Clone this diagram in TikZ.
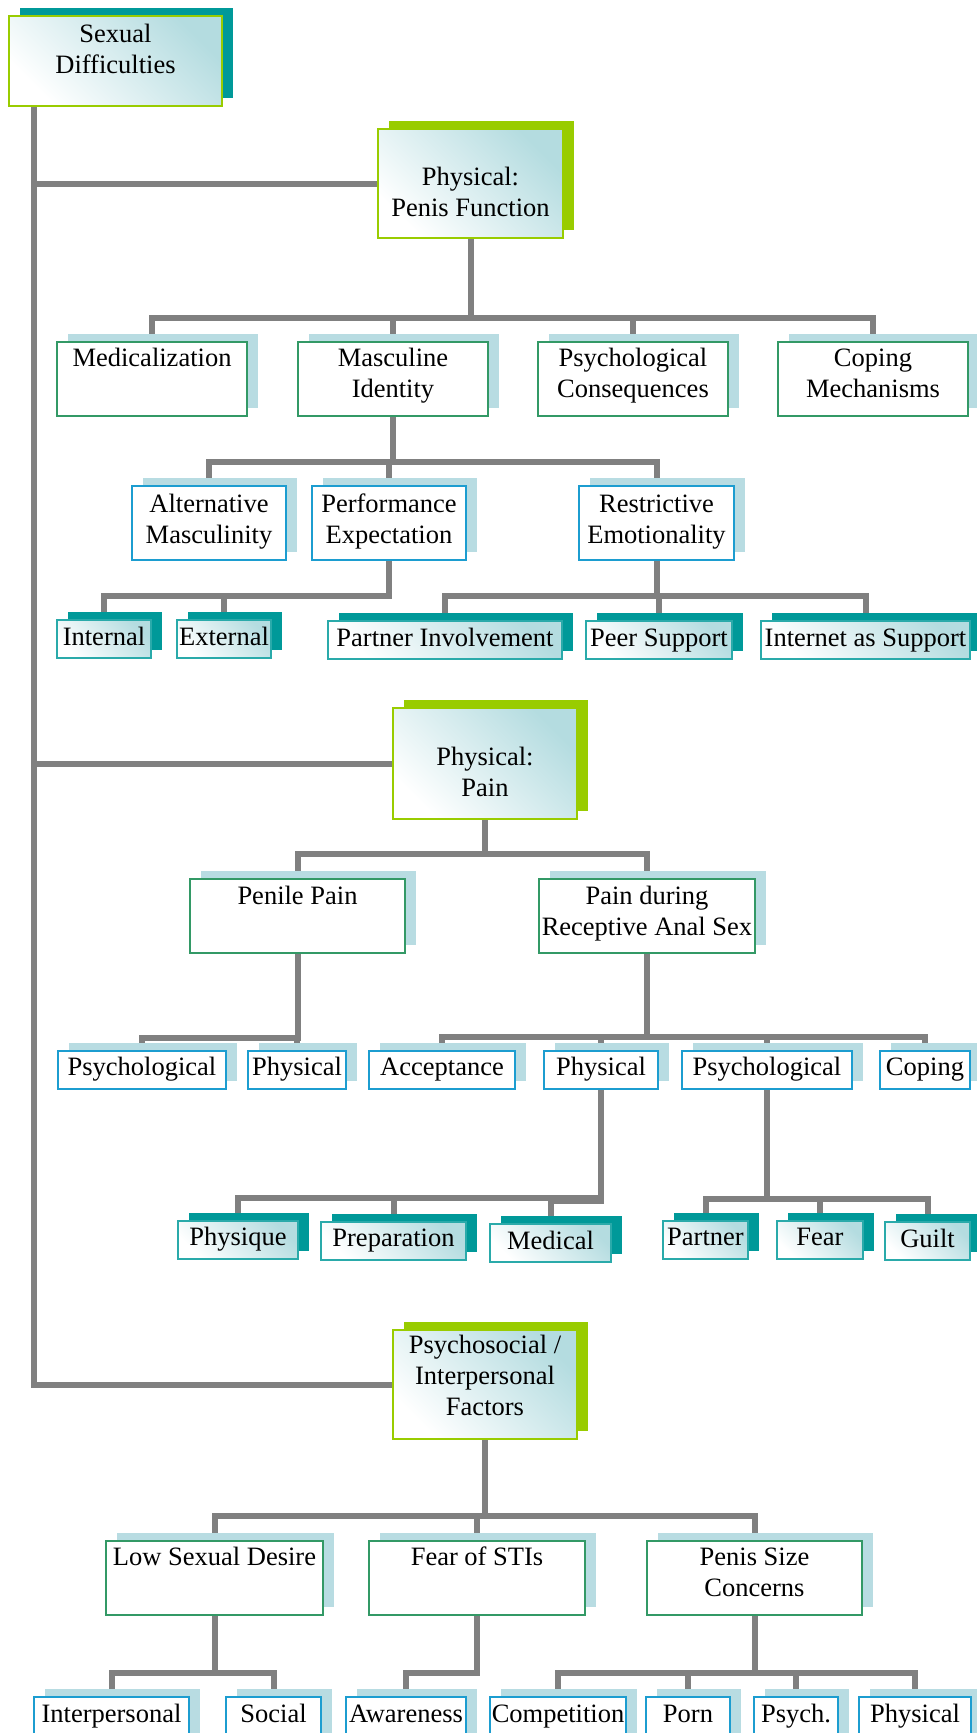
\documentclass[tikz,border=0pt]{standalone}
\usepackage{fontspec}
\setmainfont{Liberation Serif}
\usetikzlibrary{shadows,backgrounds}
\definecolor{lineg}{HTML}{808080}
\definecolor{ygreen}{HTML}{99CC00}
\definecolor{tealsh}{HTML}{009999}
\definecolor{tealbd}{HTML}{2AAAAA}
\definecolor{sgreen}{HTML}{339966}
\definecolor{bluebd}{HTML}{1C9DD0}
\definecolor{lbsh}{HTML}{B8DCE2}
\definecolor{gradb}{HTML}{B4DCE0}
\newcommand{\bt}[4]{\parbox[t][#2pt][t]{#1pt}{\centering\rule{0pt}{#3pt}#4\par}}
\tikzset{
  base/.style={inner sep=0pt, outer sep=0pt, anchor=north west, font=\fontsize{26.5}{31}\selectfont},
  lone/.style={base, draw=ygreen, line width=1.8pt, top color=gradb, bottom color=white, shading angle=-45,
    general shadow={fill=#1, shadow xshift=11pt, shadow yshift=8pt}},
  ltwo/.style={base, draw=sgreen, line width=1.5pt, fill=white,
    general shadow={fill=lbsh, shadow xshift=11pt, shadow yshift=8pt}},
  lthree/.style={base, draw=bluebd, line width=1.5pt, fill=white,
    general shadow={fill=lbsh, shadow xshift=11pt, shadow yshift=8pt}},
  lfour/.style={base, draw=tealbd, line width=1.5pt, top color=gradb, bottom color=white, shading angle=-45,
    general shadow={fill=tealsh, shadow xshift=11pt, shadow yshift=8pt}},
  conn/.style={draw=lineg, line width=6pt}
}
\begin{document}
\begin{tikzpicture}[x=1pt, y=-1pt]
\path[use as bounding box] (0,0) rectangle (977,1733);
% level one
\node[lone=tealsh] (sd) at (9,16) {\bt{213}{90}{26}{Sexual\\Difficulties}};
\node[lone=ygreen] (ppf) at (378,129) {\bt{185}{109}{56}{Physical:\\Penis Function}};
\node[lone=ygreen] (pain) at (393,708) {\bt{184}{111}{57}{Physical:\\Pain}};
\node[lone=ygreen] (psf) at (393,1330) {\bt{184}{109}{23}{Psychosocial /\\Interpersonal\\Factors}};
% penis function
\node[ltwo] (med) at (57,342) {\bt{190}{74}{24}{Medicalization}};
\node[ltwo] (mas) at (298,342) {\bt{190}{74}{24}{Masculine\\Identity}};
\node[ltwo] (psc) at (538,342) {\bt{190}{74}{24}{Psychological\\Consequences}};
\node[ltwo] (cop) at (778,342) {\bt{190}{74}{24}{Coping\\Mechanisms}};
\node[lthree] (alt) at (132,486) {\bt{154}{74}{26}{Alternative\\Masculinity}};
\node[lthree] (per) at (312,486) {\bt{154}{74}{26}{Performance\\Expectation}};
\node[lthree] (res) at (579,486) {\bt{155}{74}{26}{Restrictive\\Emotionality}};
\node[lfour] (int) at (57,620) {\bt{94}{38}{25}{Internal}};
\node[lfour] (ext) at (177,620) {\bt{94}{38}{25}{External}};
\node[lfour] (pin) at (328,621) {\bt{234}{38}{25}{Partner Involvement}};
\node[lfour] (pee) at (586,621) {\bt{146}{38}{25}{Peer Support}};
\node[lfour] (ias) at (761,621) {\bt{209}{38}{25}{Internet as Support}};
% pain
\node[ltwo] (pp) at (190,879) {\bt{215}{74}{25}{Penile Pain}};
\node[ltwo] (ras) at (539,879) {\bt{216}{74}{25}{Pain during\\Receptive Anal Sex}};
\node[lthree] (psya) at (58,1051) {\bt{168}{38}{24}{Psychological}};
\node[lthree] (phya) at (248,1051) {\bt{98}{38}{24}{Physical}};
\node[lthree] (acc) at (369,1051) {\bt{146}{38}{24}{Acceptance}};
\node[lthree] (phyb) at (544,1051) {\bt{114}{38}{24}{Physical}};
\node[lthree] (psyb) at (682,1051) {\bt{170}{38}{24}{Psychological}};
\node[lthree] (copg) at (880,1051) {\bt{90}{38}{24}{Coping}};
\node[lfour] (phq) at (178,1221) {\bt{120}{38}{24}{Physique}};
\node[lfour] (prep) at (321,1222) {\bt{145}{38}{24}{Preparation}};
\node[lfour] (medc) at (490,1224) {\bt{121}{38}{25}{Medical}};
\node[lfour] (ptn) at (663,1221) {\bt{85}{38}{24}{Partner}};
\node[lfour] (fear) at (777,1221) {\bt{86}{38}{24}{Fear}};
\node[lfour] (guilt) at (885,1222) {\bt{85}{38}{25}{Guilt}};
% psychosocial
\node[ltwo] (lsd) at (106,1541) {\bt{217}{74}{24}{Low Sexual Desire}};
\node[ltwo] (fst) at (369,1541) {\bt{216}{74}{24}{Fear of STIs}};
\node[ltwo] (psz) at (647,1541) {\bt{215}{74}{24}{Penis Size\\Concerns}};
\node[lthree] (ipr) at (34,1697) {\bt{155}{45}{25}{Interpersonal}};
\node[lthree] (soc) at (226,1697) {\bt{95}{45}{25}{Social}};
\node[lthree] (awa) at (346,1697) {\bt{120}{45}{25}{Awareness}};
\node[lthree] (cmp) at (490,1697) {\bt{136}{45}{25}{Competition}};
\node[lthree] (porn) at (646,1697) {\bt{84}{45}{25}{Porn}};
\node[lthree] (psch) at (754,1697) {\bt{84}{45}{25}{Psych.}};
\node[lthree] (phys) at (859,1697) {\bt{112}{45}{25}{Physical}};
\coordinate (tk) at (34,106);
\begin{scope}[on background layer]
\fill[white] (0,0) rectangle (977,1733);
\draw[conn] (tk) |- (ppf.west);
\draw[conn] (tk) |- (pain.west);
\draw[conn] (tk) |- (psf.west);
\foreach \c in {med,mas,psc,cop} \draw[conn] (ppf.south) -- ++(0,80) -| (\c.north);
\foreach \c in {alt,per,res} \draw[conn] (mas.south) -- ++(0,46) -| (\c.north);
\foreach \c in {int,ext} \draw[conn] (per.south) -- ++(0,36) -| (\c.north);
\foreach \c in {pin,pee,ias} \draw[conn] (res.south) -- ++(0,36) -| (\c.north);
\foreach \c in {pp,ras} \draw[conn] (pain.south) -- ++(0,35) -| (\c.north);
\foreach \c in {psya,phya} \draw[conn] (pp.south) -- ++(0,85) -| (\c.north);
\foreach \c in {acc,phyb,psyb,copg} \draw[conn] (ras.south) -- ++(0,84) -| (\c.north);
\foreach \c in {phq,prep} \draw[conn] (phyb.south) -- ++(0,109) -| (\c.north);
\draw[conn] (phyb.south) -- ++(0,112) -| (medc.north);
\foreach \c in {ptn,fear,guilt} \draw[conn] (psyb.south) -- ++(0,110) -| (\c.north);
\foreach \c in {lsd,fst,psz} \draw[conn] (psf.south) -- ++(0,77) -| (\c.north);
\foreach \c in {ipr,soc} \draw[conn] (lsd.south) -- ++(0,58) -| (\c.north);
\draw[conn] (fst.south) -- ++(0,58) -| (awa.north);
\foreach \c in {cmp,porn,psch,phys} \draw[conn] (psz.south) -- ++(0,58) -| (\c.north);
\end{scope}
\end{tikzpicture}
\end{document}
